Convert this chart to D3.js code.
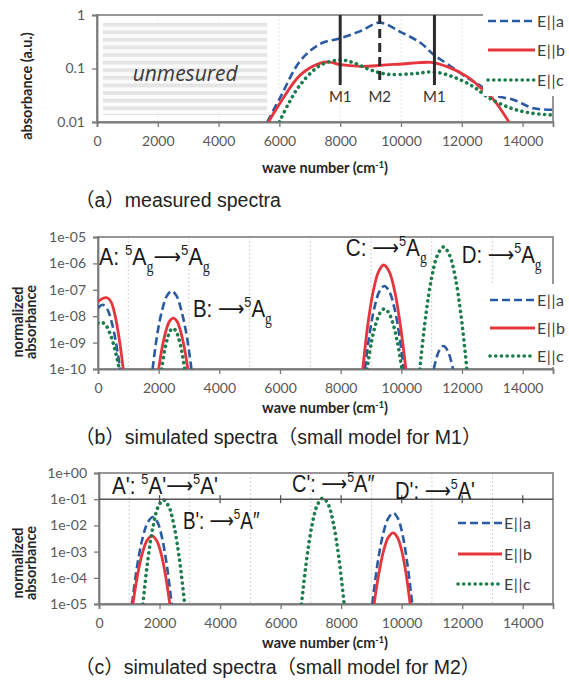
<!DOCTYPE html>
<html>
<head>
<meta charset="utf-8">
<script src="https://cdn.jsdelivr.net/npm/d3@7"></script>
<style>
    body { margin: 0; background: #fff; }
</style>
</head>
<body>
<svg id="chart" width="569" height="684" font-family="Lato, 'Open Sans', sans-serif"></svg>
<script>
// Absorbance spectra: measured (a) and two simulated models (b, c)

const waveTicks = [0, 2000, 4000, 6000, 8000, 10000, 12000, 14000];
const oddGrid = [1000, 3000, 5000, 7000, 9000, 11000, 13000];
const seriesNames = ['E||a', 'E||b', 'E||c'];

const ticksA = [1, 0.1, 0.01];
const tickLabelsA = ['1', '0.1', '0.01'];
const ticksB = [1e-5, 1e-6, 1e-7, 1e-8, 1e-9, 1e-10];
const tickLabelsB = ['1e-05', '1e-06', '1e-07', '1e-08', '1e-09', '1e-10'];
const ticksC = [1, 1e-1, 1e-2, 1e-3, 1e-4, 1e-5];
const tickLabelsC = ['1e+00', '1e-01', '1e-02', '1e-03', '1e-04', '1e-05'];

// (a) measured
const measuredEa = [[5600, 0.01], [6030, 0.029], [6690, 0.14], [7350, 0.29], [8010, 0.37], [8670, 0.5], [9300, 0.72],
    [9990, 0.48], [10650, 0.30], [11080, 0.18], [11540, 0.12], [12200, 0.066], [12630, 0.047], [13050, 0.032],
    [13700, 0.026], [14370, 0.018], [15000, 0.017]];
const measuredEb = [[5640, 0.01], [6030, 0.023], [6690, 0.076], [7350, 0.126], [7650, 0.132], [8010, 0.118],
    [8670, 0.11], [9330, 0.114], [10220, 0.124], [10980, 0.13], [11540, 0.107], [12200, 0.069], [12630, 0.043],
    [13050, 0.026], [13550, 0.01]];
const measuredEc = [[6000, 0.01], [6300, 0.022], [6690, 0.05], [7350, 0.115], [8010, 0.144], [8440, 0.128],
    [9000, 0.094], [9560, 0.078], [10420, 0.08], [11080, 0.086], [11740, 0.069], [12400, 0.045], [12860, 0.029],
    [13520, 0.019], [14170, 0.015], [15000, 0.0135]];
const markerWaves = [8000, 9300, 11100];
const markerLabels = ['M1', 'M2', 'M1'];

// (b) small model for M1, one array per peak
const m1Ea = [
    [[0, 2e-8], [150, 2.7e-8], [300, 1.9e-8], [450, 6e-9], [600, 9e-10], [730, 1e-10]],
    [[1800, 1e-10], [1960, 2.3e-9], [2110, 1.6e-8], [2270, 5.9e-8], [2430, 9e-8], [2590, 5.9e-8], [2750, 1.6e-8], [2910, 2.3e-9], [3080, 1e-10]],
    [[8800, 1e-10], [8960, 2.4e-9], [9120, 2.3e-8], [9280, 8.8e-8], [9440, 1.4e-7], [9600, 8.8e-8], [9760, 2.3e-8], [9920, 2.4e-9], [10080, 1e-10]],
    [[11070, 1e-10], [11230, 4.5e-10], [11390, 7.4e-10], [11545, 4.5e-10], [11700, 1e-10]]
];
const m1Eb = [
    [[0, 3.5e-8], [150, 4.7e-8], [300, 5e-8], [430, 3.5e-8], [560, 1.1e-8], [700, 1.4e-9], [780, 3e-10], [830, 1e-10]],
    [[2000, 1e-10], [2120, 6.9e-10], [2240, 2.8e-9], [2360, 6.5e-9], [2480, 8.5e-9], [2600, 6.5e-9], [2720, 2.8e-9], [2840, 6.9e-10], [2960, 1e-10]],
    [[8730, 1e-10], [8900, 5.3e-9], [9075, 9e-8], [9250, 4.9e-7], [9420, 8.7e-7], [9600, 4.9e-7], [9780, 9e-8], [9960, 5.3e-9], [10150, 1e-10]]
];
const m1Ec = [
    [[0, 5.5e-9], [100, 6e-9], [250, 4.7e-9], [400, 2.1e-9], [550, 6e-10], [700, 1e-10]],
    [[2100, 1e-10], [2195, 4.8e-10], [2290, 1.45e-9], [2380, 2.8e-9], [2470, 3.5e-9], [2565, 2.8e-9], [2660, 1.45e-9], [2760, 4.8e-10], [2860, 1e-10]],
    [[8870, 1e-10], [9010, 9.8e-10], [9155, 5e-9], [9300, 1.35e-8], [9440, 1.9e-8], [9585, 1.35e-8], [9730, 5e-9], [9875, 9.8e-10], [10020, 1e-10]],
    [[10610, 1e-10], [10805, 1.05e-8], [11000, 2.9e-7], [11195, 2.1e-6], [11390, 4.2e-6], [11585, 2.1e-6], [11780, 2.9e-7], [11970, 1.05e-8], [12160, 1e-10]]
];

// (c) small model for M2
const m2Ea = [
    [[1090, 1e-5], [1260, 2.8e-4], [1435, 3.1e-3], [1610, 1.3e-2], [1780, 2.1e-2], [1935, 1.3e-2], [2090, 3.1e-3], [2245, 2.8e-4], [2400, 1e-5]],
    [[9030, 1e-5], [9200, 3.3e-4], [9375, 4.1e-3], [9550, 1.8e-2], [9720, 3e-2], [9880, 1.8e-2], [10035, 4.1e-3], [10190, 3.3e-4], [10350, 1e-5]]
];
const m2Eb = [
    [[1120, 1e-5], [1280, 1.4e-4], [1435, 8.9e-4], [1590, 2.7e-3], [1750, 4e-3], [1900, 2.7e-3], [2045, 8.9e-4], [2190, 1.4e-4], [2340, 1e-5]],
    [[9090, 1e-5], [9250, 1.55e-4], [9405, 1.1e-3], [9560, 3.5e-3], [9720, 5.2e-3], [9860, 3.5e-3], [10000, 1.1e-3], [10140, 1.55e-4], [10280, 1e-5]]
];
const m2Ec = [
    [[1450, 1e-5], [1620, 5.5e-4], [1790, 9.5e-3], [1960, 5.3e-2], [2130, 9.3e-2], [2305, 5.3e-2], [2480, 9.5e-3], [2655, 5.5e-4], [2830, 1e-5]],
    [[6690, 1e-5], [6868, 5.9e-4], [7045, 1.1e-2], [7222, 6.3e-2], [7400, 0.11], [7575, 6.3e-2], [7750, 1.1e-2], [7925, 5.9e-4], [8100, 1e-5]]
];

// transition labels: [text, kind]  n = normal, sup, sub, arr
const labelsB = [
    [['A: ', 'n'], ['5', 'sup'], ['A', 'n'], ['g', 'sub'], ['→', 'arr'], ['5', 'sup'], ['A', 'n'], ['g', 'sub']],
    [['B: ', 'n'], ['→', 'arr'], ['5', 'sup'], ['A', 'n'], ['g', 'sub']],
    [['C: ', 'n'], ['→', 'arr'], ['5', 'sup'], ['A', 'n'], ['g', 'sub']],
    [['D: ', 'n'], ['→', 'arr'], ['5', 'sup'], ['A', 'n'], ['g', 'sub']]
];
const labelsC = [
    [["A': ", 'n'], ['5', 'sup'], ["A'", 'n'], ['→', 'arr'], ['5', 'sup'], ["A'", 'n']],
    [["B': ", 'n'], ['→', 'arr'], ['5', 'sup'], ['A″', 'n']],
    [["C': ", 'n'], ['→', 'arr'], ['5', 'sup'], ['A″', 'n']],
    [["D': ", 'n'], ['→', 'arr'], ['5', 'sup'], ["A'", 'n']]
];

const COLORS = ['#2a5aa2', '#e5363d', '#1b7d4c'];
const DASH = ['8,4', null, '0.1,5.6'];
const WIDTH = [2.6, 2.8, 3.6];

const svg = d3.select('#chart');

const defs = svg.append('defs');
const stripe = defs.append('pattern')
    .attr('id', 'stripes')
    .attr('patternUnits', 'userSpaceOnUse')
    .attr('width', 4).attr('height', 7.6);
stripe.append('rect').attr('width', 4).attr('height', 7.6).attr('fill', '#fbfbfb');
stripe.append('rect').attr('width', 4).attr('height', 3.6).attr('fill', '#e2e2e2');
stripe.append('rect').attr('x', 1).attr('y', 1.2).attr('width', 1.2).attr('height', 1.2).attr('fill', '#f2f2f2');

function styleLine(sel, i) {
    sel.attr('fill', 'none')
        .attr('stroke', COLORS[i])
        .attr('stroke-width', WIDTH[i])
        .attr('stroke-dasharray', DASH[i])
        .attr('stroke-linecap', i === 2 ? 'round' : 'butt');
}

function panel(id, x, y, yTicks, yLabels, gridWaves, gridColor) {
    const [x0, x1] = x.range();
    const [y0, y1] = y.range();
    const g = svg.append('g');

    defs.append('clipPath').attr('id', 'clip-' + id)
        .append('rect').attr('x', x0).attr('y', y1).attr('width', x1 - x0).attr('height', y0 - y1);

    // grid
    g.selectAll('.grid').data(gridWaves).enter().append('line')
        .attr('x1', d => x(d)).attr('x2', d => x(d))
        .attr('y1', y1).attr('y2', y0)
        .attr('stroke', gridColor).attr('stroke-width', 1)
        .attr('stroke-dasharray', '2,2');

    // frame
    g.append('rect')
        .attr('x', x0).attr('y', y1).attr('width', x1 - x0).attr('height', y0 - y1)
        .attr('fill', 'none').attr('stroke', '#8c8c8c').attr('stroke-width', 1.8);

    const xAxis = g.append('g')
        .attr('transform', `translate(0,${y0})`)
        .call(d3.axisBottom(x).tickValues(waveTicks).tickSize(5).tickPadding(9).tickFormat(d3.format('d')));
    const yAxis = g.append('g')
        .attr('transform', `translate(${x0},0)`)
        .call(d3.axisLeft(y).tickValues(yTicks).tickSize(5).tickPadding(7)
            .tickFormat((d, i) => yLabels[i]));
    [xAxis, yAxis].forEach(a => {
        a.attr('font-family', 'Lato, sans-serif').attr('font-size', 14);
        a.select('.domain').attr('stroke', '#7a7a7a').attr('stroke-width', 1.8);
        a.selectAll('.tick line').attr('stroke', '#7a7a7a').attr('stroke-width', 1.3);
        a.selectAll('.tick text').attr('fill', '#595959');
    });

    const plot = g.append('g').attr('clip-path', `url(#clip-${id})`);
    return { g, plot };
}

function drawSeries(plot, x, y, segments, i) {
    const line = d3.line()
        .x(d => x(d[0]))
        .y(d => y(d[1]))
        .curve(d3.curveCatmullRom.alpha(0.5));
    segments.forEach(seg => {
        plot.append('path').datum(seg).attr('d', line).call(styleLine, i);
    });
}

function drawLegend(g, lx1, lx2, ys, boxRect) {
    if (boxRect) {
        g.append('rect')
            .attr('x', boxRect[0]).attr('y', boxRect[1]).attr('width', boxRect[2]).attr('height', boxRect[3])
            .attr('fill', '#fff');
    }
    seriesNames.forEach((name, i) => {
        g.append('line')
            .attr('x1', lx1).attr('x2', lx2).attr('y1', ys[i]).attr('y2', ys[i])
            .call(styleLine, i);
        g.append('text')
            .attr('x', lx2 + 2).attr('y', ys[i] + 5.5)
            .attr('font-size', 16).attr('fill', '#404040')
            .attr('letter-spacing', 0.6)
            .text(name);
    });
}

function drawTransition(g, parts, px, py, width) {
    const size = 24;
    const grp = g.append('g').attr('transform', `translate(${px},${py})`);
    const t = grp.append('text')
        .attr('font-family', '"Liberation Sans", Arial, sans-serif')
        .attr('font-size', size).attr('fill', '#1a1a1a');
    parts.forEach(([s, kind]) => {
        const ts = t.append('tspan').text(s);
        if (kind === 'sup') ts.attr('y', -size * 0.4).attr('font-size', size * 0.62);
        else if (kind === 'sub') ts.attr('y', size * 0.28).attr('font-size', size * 0.66)
            .attr('font-family', '"Liberation Serif", serif');
        else if (kind === 'arr') ts.attr('y', -1).attr('font-family', '"DejaVu Sans", sans-serif')
            .attr('font-size', size * 0.9).text('⟶');
        else ts.attr('y', 0);
    });
    const w = t.node().getBBox().width;
    grp.attr('transform', `translate(${px},${py}) scale(${width / w},1)`);
}

function xTitle(cy) {
    const t = svg.append('text')
        .attr('x', 325).attr('y', cy)
        .attr('text-anchor', 'middle')
        .attr('font-size', 14.5).attr('font-weight', 'bold').attr('fill', '#262626');
    t.append('tspan').text('wave number (cm');
    t.append('tspan').attr('font-size', 9).attr('dy', -5).text('-1');
    t.append('tspan').attr('dy', 5).text(')');
}

function yTitle(lines, cx, cy) {
    lines.forEach((s, k) => {
        svg.append('text')
            .attr('transform', `translate(${cx + k * 13},${cy}) rotate(-90)`)
            .attr('text-anchor', 'middle')
            .attr('font-size', 14.5).attr('font-weight', 'bold').attr('fill', '#262626')
            .text(s);
    });
}

function caption(text, cy) {
    svg.append('text')
        .attr('x', 75).attr('y', cy)
        .attr('font-family', '"Liberation Sans", "Noto Sans CJK JP", sans-serif')
        .attr('font-size', 19.5).attr('fill', '#222')
        .text(text);
}

// ---------- (a) measured spectra ----------
const xA = d3.scaleLinear().domain([0, 15000]).range([97, 553]);
const yA = d3.scaleLog().domain([0.01, 1]).range([122, 15]);
const pA = panel('a', xA, yA, ticksA, tickLabelsA, [2000, 4000, 6000, 8000, 10000, 12000, 14000], '#ececec');

pA.plot.append('rect')
    .attr('x', xA(200)).attr('y', yA(0.72))
    .attr('width', xA(5600) - xA(200)).attr('height', yA(0.0135) - yA(0.72))
    .attr('fill', 'url(#stripes)');
pA.g.append('text')
    .attr('x', xA(2900)).attr('y', yA(0.058))
    .attr('text-anchor', 'middle')
    .attr('font-family', '"Open Sans", sans-serif').attr('font-style', 'italic')
    .attr('font-size', 21).attr('fill', '#3a3a3a')
    .text('unmesured');

[measuredEa, measuredEb, measuredEc].forEach((s, i) => drawSeries(pA.plot, xA, yA, [s], i));

markerWaves.forEach((w, k) => {
    pA.g.append('line')
        .attr('x1', xA(w)).attr('x2', xA(w))
        .attr('y1', yA(1)).attr('y2', yA(0.049))
        .attr('stroke', '#2b2b2b').attr('stroke-width', 3)
        .attr('stroke-dasharray', markerLabels[k] === 'M2' ? '9,5' : null);
    pA.g.append('text')
        .attr('x', xA(w)).attr('y', yA(0.0236))
        .attr('text-anchor', 'middle')
        .attr('font-size', 15).attr('fill', '#333')
        .text(markerLabels[k]);
});
drawLegend(pA.g, 488, 535, [21, 50, 80], [483, 0, 86, 96]);

xTitle(173);
yTitle(['absorbance (a.u.)'], 32, 86);
caption('（a）measured spectra', 207);

// ---------- (b) simulated spectra, M1 ----------
const xB = d3.scaleLinear().domain([0, 15000]).range([98, 553]);
const yB = d3.scaleLog().domain([1e-10, 1e-5]).range([369, 237]);
const pB = panel('b', xB, yB, ticksB, tickLabelsB, oddGrid, '#d4d4d4');

[m1Ea, m1Eb, m1Ec].forEach((s, i) => drawSeries(pB.plot, xB, yB, s, i));

drawLegend(pB.g, 490, 535, [300, 328, 356], [484, 284, 85, 83]);

const posB = [[30, 8.7e-7, 111], [3130, 9.3e-9, 79], [8170, 1.9e-6, 81], [11990, 1.05e-6, 80]];
labelsB.forEach((parts, k) => drawTransition(pB.g, parts, xB(posB[k][0]), yB(posB[k][1]), posB[k][2]));

xTitle(413);
yTitle(['normalized', 'absorbance'], 23, 322);
caption('（b）simulated spectra（small model for M1）', 444);

// ---------- (c) simulated spectra, M2 ----------
const xC = d3.scaleLinear().domain([0, 15000]).range([99, 553]);
const yC = d3.scaleLog().domain([1e-5, 1]).range([604, 473]);
const pC = panel('c', xC, yC, ticksC, tickLabelsC, oddGrid, '#d4d4d4');

// axis crossing line at 1e-01
pC.g.append('line')
    .attr('x1', xC(0)).attr('x2', xC(15000)).attr('y1', yC(0.1)).attr('y2', yC(0.1))
    .attr('stroke', '#555').attr('stroke-width', 1.4);
pC.g.selectAll('.xtick2').data(waveTicks.slice(1)).enter().append('line')
    .attr('x1', d => xC(d)).attr('x2', d => xC(d))
    .attr('y1', yC(0.1) - 4).attr('y2', yC(0.1) + 4)
    .attr('stroke', '#555').attr('stroke-width', 1.3);

[m2Ea, m2Eb, m2Ec].forEach((s, i) => drawSeries(pC.plot, xC, yC, s, i));

drawLegend(pC.g, 458, 502, [523, 554, 584], null);

const posC = [[430, 0.158, 106], [2775, 0.0073, 77], [6376, 0.188, 83], [9780, 0.102, 80]];
labelsC.forEach((parts, k) => drawTransition(pC.g, parts, xC(posC[k][0]), yC(posC[k][1]), posC[k][2]));

xTitle(648);
yTitle(['normalized', 'absorbance'], 23, 563);
caption('（c）simulated spectra（small model for M2）', 674);
</script>
</body>
</html>
